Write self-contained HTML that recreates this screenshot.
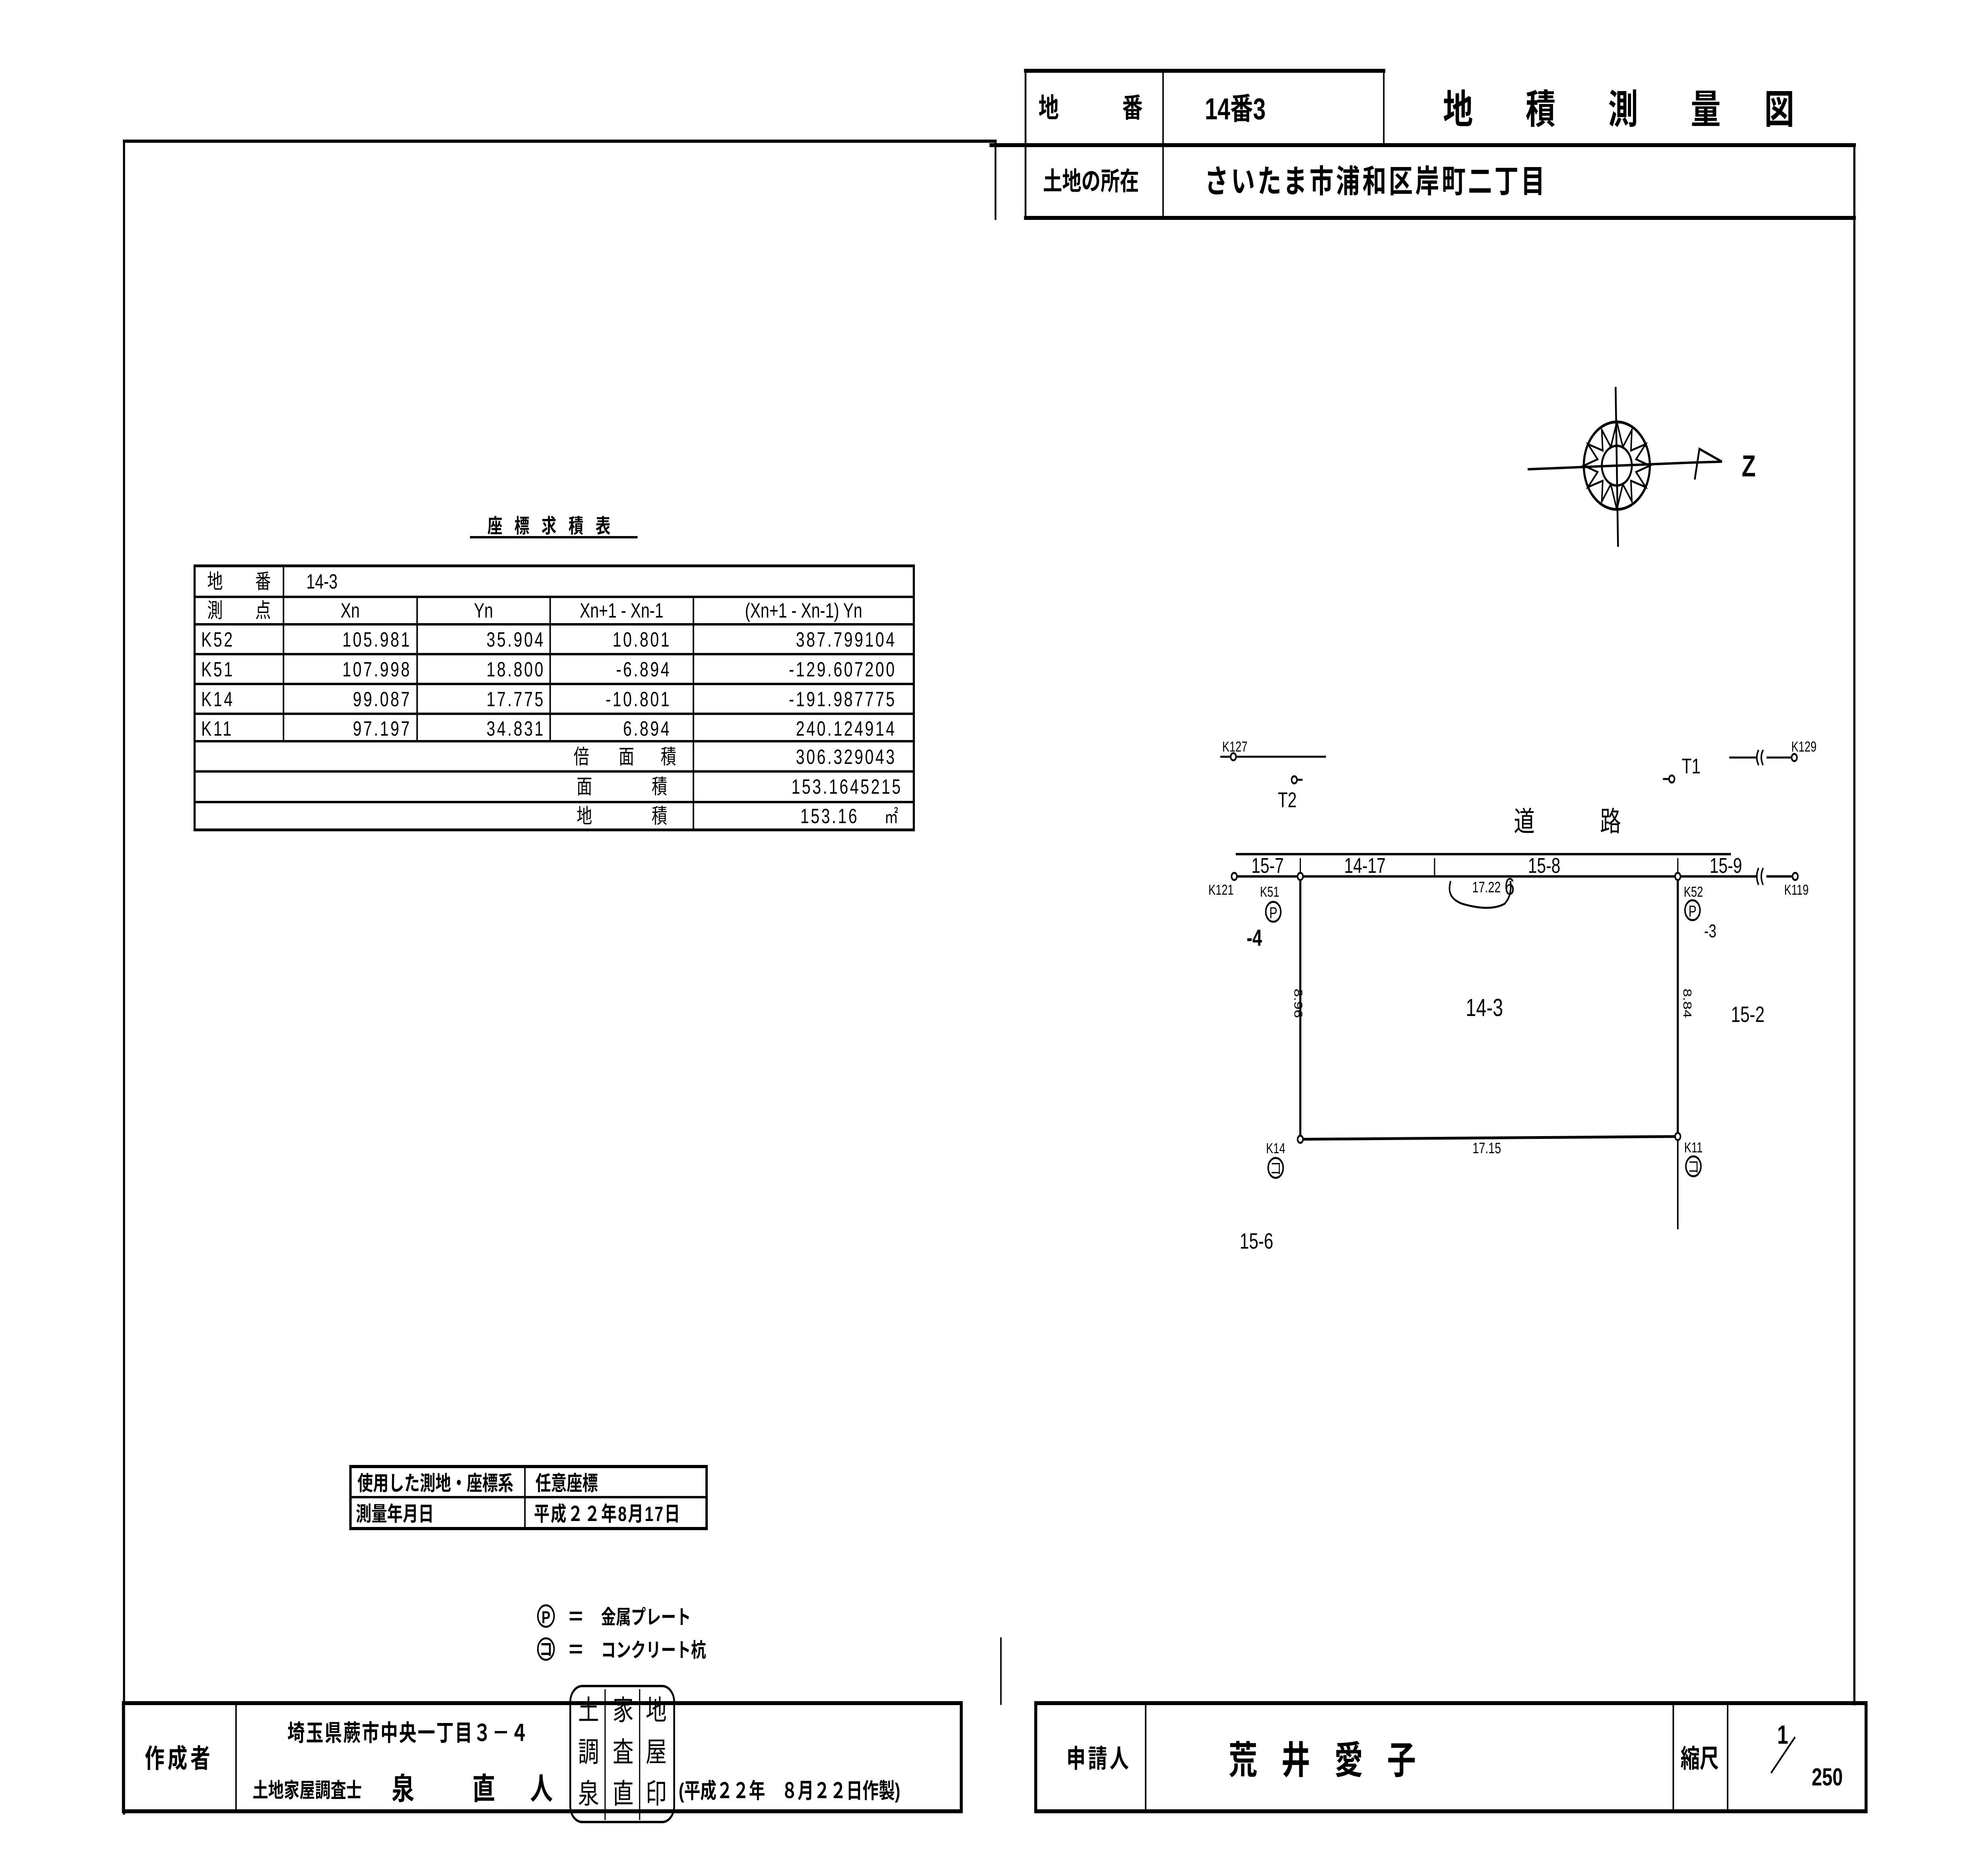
<!DOCTYPE html>
<html><head><meta charset="utf-8"><style>
html,body{margin:0;padding:0;background:#fff;width:100%;height:100%;overflow:hidden}
svg{display:block;position:absolute;left:0;top:0;width:100vw;height:100vh}
text{font-family:"Liberation Sans","Noto Sans CJK JP",sans-serif;fill:#000}
</style></head><body>
<svg viewBox="0 0 6620 4680" preserveAspectRatio="none" xmlns="http://www.w3.org/2000/svg">
<g stroke="#000" fill="none" stroke-linecap="square">
<line x1="413" y1="355" x2="3315" y2="355" stroke-width="8"/>
<line x1="3315" y1="355" x2="3315" y2="550" stroke-width="6"/>
<line x1="413" y1="355" x2="413" y2="4560" stroke-width="7"/>
<line x1="6175" y1="365" x2="6175" y2="4285" stroke-width="7"/>
<line x1="3333" y1="4120" x2="3333" y2="4285" stroke-width="5"/>
<line x1="3415" y1="178" x2="4608" y2="178" stroke-width="10"/>
<line x1="3415" y1="178" x2="3415" y2="550" stroke-width="6"/>
<line x1="3873" y1="178" x2="3873" y2="550" stroke-width="5"/>
<line x1="4608" y1="178" x2="4608" y2="365" stroke-width="5"/>
<line x1="3300" y1="365" x2="6175" y2="365" stroke-width="10"/>
<line x1="3415" y1="548" x2="6175" y2="548" stroke-width="10"/>
<rect x="411" y="4283" width="2790" height="272" stroke-width="10"/>
<line x1="786" y1="4283" x2="786" y2="4555" stroke-width="5"/>
<rect x="3449" y="4283" width="2765" height="272" stroke-width="10"/>
<line x1="3815" y1="4283" x2="3815" y2="4555" stroke-width="5"/>
<line x1="5572" y1="4283" x2="5572" y2="4555" stroke-width="5"/>
<line x1="5753" y1="4283" x2="5753" y2="4555" stroke-width="5"/>
<line x1="1568" y1="1351" x2="2120" y2="1351" stroke-width="6"/>
<rect x="648" y="1423" width="2395" height="664" stroke-width="7"/>
<line x1="648" y1="1501" x2="3043" y2="1501" stroke-width="6"/>
<line x1="648" y1="1570" x2="3043" y2="1570" stroke-width="6"/>
<line x1="648" y1="1645" x2="3043" y2="1645" stroke-width="6"/>
<line x1="648" y1="1720" x2="3043" y2="1720" stroke-width="6"/>
<line x1="648" y1="1795" x2="3043" y2="1795" stroke-width="6"/>
<line x1="648" y1="1864" x2="3043" y2="1864" stroke-width="6"/>
<line x1="648" y1="1940" x2="3043" y2="1940" stroke-width="6"/>
<line x1="648" y1="2017" x2="3043" y2="2017" stroke-width="6"/>
<line x1="944" y1="1423" x2="944" y2="1864" stroke-width="5"/>
<line x1="1389" y1="1501" x2="1389" y2="1864" stroke-width="5"/>
<line x1="1832" y1="1501" x2="1832" y2="1864" stroke-width="5"/>
<line x1="2309" y1="1501" x2="2309" y2="2087" stroke-width="5"/>
<rect x="1167" y="3688" width="1186" height="156" stroke-width="8"/>
<line x1="1167" y1="3765" x2="2353" y2="3765" stroke-width="6"/>
<line x1="1748" y1="3688" x2="1748" y2="3844" stroke-width="5"/>
<circle cx="1818" cy="4064" r="27" stroke-width="5"/>
<circle cx="1818" cy="4147" r="27" stroke-width="5"/>
<line x1="1900" y1="4056" x2="1935" y2="4056" stroke-width="6"/>
<line x1="1900" y1="4072" x2="1935" y2="4072" stroke-width="6"/>
<line x1="1900" y1="4139" x2="1935" y2="4139" stroke-width="6"/>
<line x1="1900" y1="4155" x2="1935" y2="4155" stroke-width="6"/>
<rect x="1899" y="4240" width="346" height="342" rx="40" stroke-width="6"/>
<line x1="2015" y1="4250" x2="2015" y2="4575" stroke-width="4"/>
<line x1="2130" y1="4250" x2="2130" y2="4575" stroke-width="4"/>
<circle cx="5384" cy="1171" r="110" stroke-width="7"/>
<circle cx="5384" cy="1171" r="50" stroke-width="6"/>
<line x1="5380" y1="976" x2="5388" y2="1372" stroke-width="6"/>
<line x1="5090" y1="1180" x2="5644" y2="1163" stroke-width="6"/>
<polyline points="5644,1203 5659,1129 5734,1161 5644,1163" stroke-width="6"/>
<path d="M5384 1061 L5404 1124 L5434 1081 L5431 1133 L5480 1117 L5448 1155 L5494 1171 L5448 1187 L5480 1225 L5431 1209 L5434 1261 L5404 1218 L5384 1281 L5364 1218 L5334 1261 L5337 1209 L5288 1225 L5320 1187 L5274 1171 L5320 1155 L5288 1117 L5337 1133 L5334 1081 L5364 1124 Z" stroke-width="5"/>
<line x1="4118" y1="2148" x2="5761" y2="2148" stroke-width="6"/>
<line x1="4116" y1="2204" x2="5850" y2="2204" stroke-width="6"/>
<line x1="5885" y1="2204" x2="5970" y2="2204" stroke-width="6"/>
<path d="M5855 2185 q-10 19 0 38 M5870 2185 q-10 19 0 38" stroke-width="5"/>
<circle cx="4110" cy="2204" r="9" stroke-width="5" fill="#fff"/>
<circle cx="5978" cy="2204" r="9" stroke-width="5" fill="#fff"/>
<line x1="4777" y1="2160" x2="4777" y2="2204" stroke-width="4"/>
<line x1="4330" y1="2160" x2="4330" y2="2204" stroke-width="4"/>
<line x1="5587" y1="2160" x2="5587" y2="2204" stroke-width="4"/>
<polyline points="4330,2204 4330,2865 5587,2858 5587,2204" stroke-width="7"/>
<line x1="5587" y1="2858" x2="5587" y2="3089" stroke-width="5"/>
<circle cx="4330" cy="2204" r="9" stroke-width="5" fill="#fff"/>
<circle cx="5587" cy="2204" r="9" stroke-width="5" fill="#fff"/>
<circle cx="4330" cy="2865" r="9" stroke-width="5" fill="#fff"/>
<circle cx="5587" cy="2858" r="9" stroke-width="5" fill="#fff"/>
<path d="M4830 2218 q-15 40 40 55 q90 20 140 0 q25 -20 20 -55" stroke-width="5"/>
<line x1="4066" y1="1903" x2="4413" y2="1903" stroke-width="5"/>
<circle cx="4107" cy="1903" r="9" stroke-width="5" fill="#fff"/>
<line x1="5761" y1="1905" x2="5850" y2="1905" stroke-width="5"/>
<line x1="5885" y1="1905" x2="5966" y2="1905" stroke-width="5"/>
<path d="M5855 1888 q-10 17 0 34 M5870 1888 q-10 17 0 34" stroke-width="5"/>
<circle cx="5975" cy="1905" r="9" stroke-width="5" fill="#fff"/>
<circle cx="4310" cy="1961" r="9" stroke-width="5" fill="#fff"/>
<line x1="4319" y1="1961" x2="4335" y2="1961" stroke-width="5"/>
<circle cx="5567" cy="1959" r="9" stroke-width="5" fill="#fff"/>
<line x1="5540" y1="1959" x2="5558" y2="1959" stroke-width="5"/>
<circle cx="4240" cy="2293" r="25" stroke-width="5"/>
<circle cx="5636" cy="2289" r="25" stroke-width="5"/>
<circle cx="4248" cy="2937" r="25" stroke-width="5"/>
<circle cx="5639" cy="2933" r="25" stroke-width="5"/>
<line x1="5976" y1="4370" x2="5899" y2="4457" stroke-width="5"/>
</g>
<g font-weight="bold">
<text x="3492" y="295" font-size="68" text-anchor="middle">地</text>
<text x="3771" y="295" font-size="68" text-anchor="middle">番</text>
<text x="4012" y="300" font-size="76">14番3</text>
<text x="4855" y="310" font-size="100" text-anchor="middle">地</text>
<text x="5130" y="310" font-size="100" text-anchor="middle">積</text>
<text x="5405" y="310" font-size="100" text-anchor="middle">測</text>
<text x="5680" y="310" font-size="100" text-anchor="middle">量</text>
<text x="5925" y="310" font-size="100" text-anchor="middle">図</text>
<text x="3473" y="478" font-size="64">土地の所在</text>
<text x="4011" y="484" font-size="80" letter-spacing="8">さいたま市浦和区岸町二丁目</text>
</g>
<g font-size="52">
<text x="1848" y="1340" text-anchor="middle" font-weight="bold" letter-spacing="40" font-size="50">座標求積表</text>
<text x="690" y="1480">地</text><text x="850" y="1480">番</text>
<text x="1020" y="1480">14-3</text>
<text x="690" y="1553">測</text><text x="850" y="1553">点</text>
<text x="1166" y="1553" text-anchor="middle">Xn</text>
<text x="1610" y="1553" text-anchor="middle">Yn</text>
<text x="2070" y="1553" text-anchor="middle">Xn+1 - Xn-1</text>
<text x="2676" y="1553" text-anchor="middle">(Xn+1 - Xn-1) Yn</text>
<g letter-spacing="6">
<text x="670" y="1626">K52</text><text x="1370" y="1626" text-anchor="end">105.981</text><text x="1815" y="1626" text-anchor="end">35.904</text><text x="2235" y="1626" text-anchor="end">10.801</text><text x="2985" y="1626" text-anchor="end">387.799104</text>
<text x="670" y="1701">K51</text><text x="1370" y="1701" text-anchor="end">107.998</text><text x="1815" y="1701" text-anchor="end">18.800</text><text x="2235" y="1701" text-anchor="end">-6.894</text><text x="2985" y="1701" text-anchor="end">-129.607200</text>
<text x="670" y="1776">K14</text><text x="1370" y="1776" text-anchor="end">99.087</text><text x="1815" y="1776" text-anchor="end">17.775</text><text x="2235" y="1776" text-anchor="end">-10.801</text><text x="2985" y="1776" text-anchor="end">-191.987775</text>
<text x="670" y="1850">K11</text><text x="1370" y="1850" text-anchor="end">97.197</text><text x="1815" y="1850" text-anchor="end">34.831</text><text x="2235" y="1850" text-anchor="end">6.894</text><text x="2985" y="1850" text-anchor="end">240.124914</text>
<text x="2985" y="1921" text-anchor="end">306.329043</text>
<text x="3005" y="1996" text-anchor="end">153.1645215</text>
<text x="2860" y="2070" text-anchor="end">153.16</text>
</g>
<text x="2945" y="2070" font-size="46">㎡</text>
<text x="1910" y="1921">倍</text><text x="2060" y="1921">面</text><text x="2200" y="1921">積</text>
<text x="1920" y="1996">面</text><text x="2170" y="1996">積</text>
<text x="1920" y="2070">地</text><text x="2170" y="2070">積</text>
</g>
<g font-size="52" font-weight="bold">
<text x="1190" y="3748">使用した測地・座標系</text>
<text x="1783" y="3748">任意座標</text>
<text x="1185" y="3825">測量年月日</text>
<text x="1778" y="3825" letter-spacing="4">平成２２年8月17日</text>
<text x="1818" y="4082" font-size="44" text-anchor="middle">P</text>
<text x="1818" y="4163" font-size="44" text-anchor="middle">コ</text>
<text x="2001" y="4084" font-size="50">金属プレート</text>
<text x="2001" y="4167" font-size="50">コンクリート杭</text>
</g>
<g font-size="46">
<text x="4070" y="1890" font-size="36">K127</text>
<text x="5965" y="1890" font-size="36">K129</text>
<text x="4255" y="2030" font-size="54">T2</text>
<text x="5600" y="1945" font-size="54">T1</text>
<text x="5076" y="2090" font-size="70" text-anchor="middle">道</text>
<text x="5363" y="2090" font-size="70" text-anchor="middle">路</text>
<text x="4221" y="2195" text-anchor="middle" font-size="54">15-7</text>
<text x="4545" y="2195" text-anchor="middle" font-size="54">14-17</text>
<text x="5142" y="2195" text-anchor="middle" font-size="54">15-8</text>
<text x="5747" y="2195" text-anchor="middle" font-size="54">15-9</text>
<text x="4066" y="2250" text-anchor="middle" font-size="36">K121</text>
<text x="4228" y="2255" text-anchor="middle" font-size="36">K51</text>
<text x="5639" y="2255" text-anchor="middle" font-size="36">K52</text>
<text x="5982" y="2250" text-anchor="middle" font-size="36">K119</text>
<text x="4240" y="2309" text-anchor="middle" font-size="40">P</text>
<text x="5636" y="2305" text-anchor="middle" font-size="40">P</text>
<text x="4177" y="2378" text-anchor="middle" font-size="58" font-weight="bold">-4</text>
<text x="5695" y="2357" text-anchor="middle" font-size="46">-3</text>
<text x="4950" y="2244" text-anchor="middle" font-size="38">17.22</text>
<text x="5010" y="2250" font-size="60">6</text>
<text x="4943" y="2555" text-anchor="middle" font-size="62">14-3</text>
<text x="5820" y="2570" text-anchor="middle" font-size="56">15-2</text>
<text transform="translate(4310,2523) rotate(90)" text-anchor="middle" font-size="38">8.96</text>
<text transform="translate(5606,2523) rotate(90)" text-anchor="middle" font-size="38">8.84</text>
<text x="4951" y="2900" text-anchor="middle" font-size="38">17.15</text>
<text x="4248" y="2900" text-anchor="middle" font-size="36">K14</text>
<text x="5639" y="2898" text-anchor="middle" font-size="36">K11</text>
<text x="4248" y="2952" text-anchor="middle" font-size="40">コ</text>
<text x="5639" y="2948" text-anchor="middle" font-size="40">コ</text>
<text x="4184" y="3140" text-anchor="middle" font-size="56">15-6</text>
<text x="5800" y="1198" font-size="76" font-weight="bold">Z</text>
</g>
<g font-weight="bold">
<text x="596" y="4445" font-size="66" text-anchor="middle" letter-spacing="10">作成者</text>
<text x="957" y="4378" font-size="58" letter-spacing="4">埼玉県蕨市中央一丁目３－４</text>
<text x="841" y="4520" font-size="52">土地家屋調査士</text>
<text x="1342" y="4525" font-size="76" text-anchor="middle">泉</text>
<text x="1611" y="4525" font-size="76" text-anchor="middle">直</text>
<text x="1803" y="4525" font-size="76" text-anchor="middle">人</text>
<text x="2260" y="4522" font-size="54">(平成２２年　８月２２日作製)</text>
<g font-weight="normal" font-size="70">
<text x="1925" y="4325">土</text><text x="2040" y="4325">家</text><text x="2150" y="4325">地</text>
<text x="1925" y="4430">調</text><text x="2040" y="4430">査</text><text x="2150" y="4430">屋</text>
<text x="1925" y="4535">泉</text><text x="2040" y="4535">直</text><text x="2150" y="4535">印</text>
</g>
<text x="3659" y="4445" font-size="64" text-anchor="middle" letter-spacing="8">申請人</text>
<text x="4091" y="4460" font-size="96" letter-spacing="80">荒井愛子</text>
<text x="5660" y="4445" font-size="64" text-anchor="middle">縮尺</text>
<text x="5918" y="4385" font-size="66">1</text>
<text x="6033" y="4490" font-size="62">250</text>
</g>
</svg>
</body></html>
